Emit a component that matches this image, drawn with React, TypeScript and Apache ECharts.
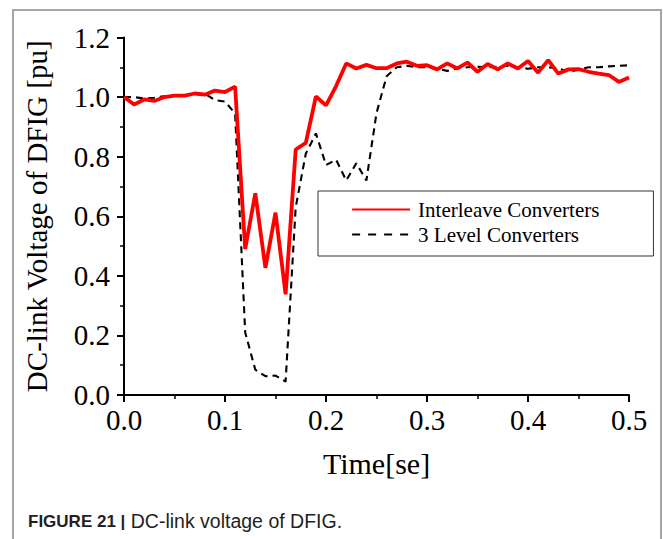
import React, { useEffect, useRef } from "react";
import * as echarts from "echarts";

const timeValues = [
  0.0, 0.01, 0.02, 0.03, 0.04, 0.05, 0.06, 0.07, 0.08, 0.09,
  0.1, 0.11, 0.12, 0.13, 0.14, 0.15, 0.16, 0.17, 0.18, 0.19,
  0.2, 0.21, 0.22, 0.23, 0.24, 0.25, 0.26, 0.27, 0.28, 0.29,
  0.3, 0.31, 0.32, 0.33, 0.34, 0.35, 0.36, 0.37, 0.38, 0.39,
  0.4, 0.41, 0.42, 0.43, 0.44, 0.45, 0.46, 0.47, 0.48, 0.49,
  0.5,
];

const interleaveValues = [
  1.0, 0.975, 0.992, 0.987, 1.0, 1.005, 1.005, 1.012, 1.008, 1.022,
  1.017, 1.035, 0.49, 0.677, 0.427, 0.612, 0.338, 0.824, 0.846, 1.002,
  0.972, 1.037, 1.113, 1.096, 1.108, 1.097, 1.097, 1.113, 1.119, 1.105,
  1.107, 1.093, 1.113, 1.096, 1.116, 1.085, 1.111, 1.093, 1.113, 1.096,
  1.121, 1.082, 1.124, 1.079, 1.093, 1.094, 1.085, 1.079, 1.074, 1.051,
  1.066,
];

const threeLevelValues = [
  1.0, 1.0, 0.995, 0.998, 1.003, 1.005, 1.005, 1.01, 1.012, 0.99,
  0.985, 0.945, 0.21, 0.085, 0.063, 0.065, 0.045, 0.63, 0.81, 0.878,
  0.772, 0.79, 0.72, 0.778, 0.72, 0.946, 1.07, 1.1, 1.105, 1.1,
  1.1, 1.095, 1.088, 1.097, 1.1, 1.102, 1.1, 1.102, 1.105, 1.1,
  1.095, 1.1, 1.1, 1.097, 1.085, 1.092, 1.1, 1.1, 1.103, 1.105,
  1.107,
];

const seriesNames = ["Interleave Converters", "3 Level Converters"];
const xAxisTitle = "Time[se]";
const yAxisTitle = "DC-link Voltage of DFIG [pu]";
const captionBold = "FIGURE 21 |";
const captionText = " DC-link voltage of DFIG.";

const SERIF = "'Liberation Serif', 'Times New Roman', serif";
const SANS = "'Liberation Sans', Arial, sans-serif";

export default function App() {
  const ref = useRef<HTMLDivElement>(null);

  useEffect(() => {
    if (!ref.current) return;
    const chart = echarts.init(ref.current, undefined, { renderer: "svg" });

    const pairs = (vals: number[]) => timeValues.map((t, i) => [t, vals[i]]);

    const axisCommon = {
      axisLine: { show: true, lineStyle: { color: "#000", width: 2 } },
      axisTick: { show: true, inside: false, length: 7, lineStyle: { color: "#000", width: 2 } },
      minorTick: { show: true, splitNumber: 2, length: 4, lineStyle: { color: "#000", width: 1.5 } },
      splitLine: { show: false },
      minorSplitLine: { show: false },
    };

    chart.setOption({
      animation: false,
      backgroundColor: "#fff",
      grid: { left: 124, right: 34, top: 37.5, bottom: 144 },
      xAxis: {
        type: "value",
        min: 0,
        max: 0.5,
        interval: 0.1,
        ...axisCommon,
        axisLabel: {
          formatter: (v: number) => v.toFixed(1),
          fontFamily: SERIF,
          fontSize: 29,
          color: "#000",
          margin: 10,
        },
        name: xAxisTitle,
        nameLocation: "middle",
        nameGap: 53,
        nameTextStyle: { fontFamily: SERIF, fontSize: 30, color: "#000" },
      },
      yAxis: {
        type: "value",
        min: 0,
        max: 1.2,
        interval: 0.2,
        ...axisCommon,
        axisLabel: {
          formatter: (v: number) => v.toFixed(1),
          fontFamily: SERIF,
          fontSize: 29,
          color: "#000",
          margin: 14,
        },
        name: yAxisTitle,
        nameLocation: "middle",
        nameGap: 73,
        nameTextStyle: { fontFamily: SERIF, fontSize: 29, color: "#000" },
      },
      legend: {
        data: [
          { name: seriesNames[0] },
          { name: seriesNames[1], lineStyle: { type: [8, 8], width: 2.2 } },
        ],
        orient: "vertical",
        left: 318,
        top: 191,
        padding: [8, 54, 11, 33],
        itemWidth: 58,
        itemHeight: 20,
        itemGap: 4,
        borderColor: "#333",
        borderWidth: 1,
        selectedMode: false,
        itemStyle: { opacity: 0 },
        textStyle: { fontFamily: SERIF, fontSize: 21, color: "#000", padding: [0, 0, 0, 3] },
      },
      series: [
        {
          name: seriesNames[1],
          type: "line",
          data: pairs(threeLevelValues),
          symbol: "none",
          z: 2,
          lineStyle: { color: "#000", width: 2.1, type: [7, 5] },
          itemStyle: { color: "#000" },
        },
        {
          name: seriesNames[0],
          type: "line",
          data: pairs(interleaveValues),
          symbol: "none",
          z: 3,
          lineStyle: { color: "#ff0000", width: 3.8 },
          itemStyle: { color: "#ff0000" },
        },
      ],
      graphic: [
        {
          type: "polyline",
          silent: true,
          z: -1,
          shape: { points: [[13, 539], [13, 10], [661, 10], [661, 539]] },
          style: { stroke: "#a6a6a6", lineWidth: 2, fill: "none" },
        },
        {
          type: "text",
          silent: true,
          x: 28,
          y: 521.4,
          style: {
            text: "{b|" + captionBold + "}" + captionText,
            fontFamily: SANS,
            fontSize: 19.5,
            fill: "#231f20",
            verticalAlign: "middle",
            rich: {
              b: { fontFamily: SANS, fontSize: 17, fontWeight: "bold", fill: "#231f20" },
            },
          },
        },
      ],
    });

    return () => chart.dispose();
  }, []);

  return (
    <div
      ref={ref}
      style={{ position: "absolute", left: 0, top: 0, width: 663, height: 539, background: "#fff" }}
    />
  );
}
